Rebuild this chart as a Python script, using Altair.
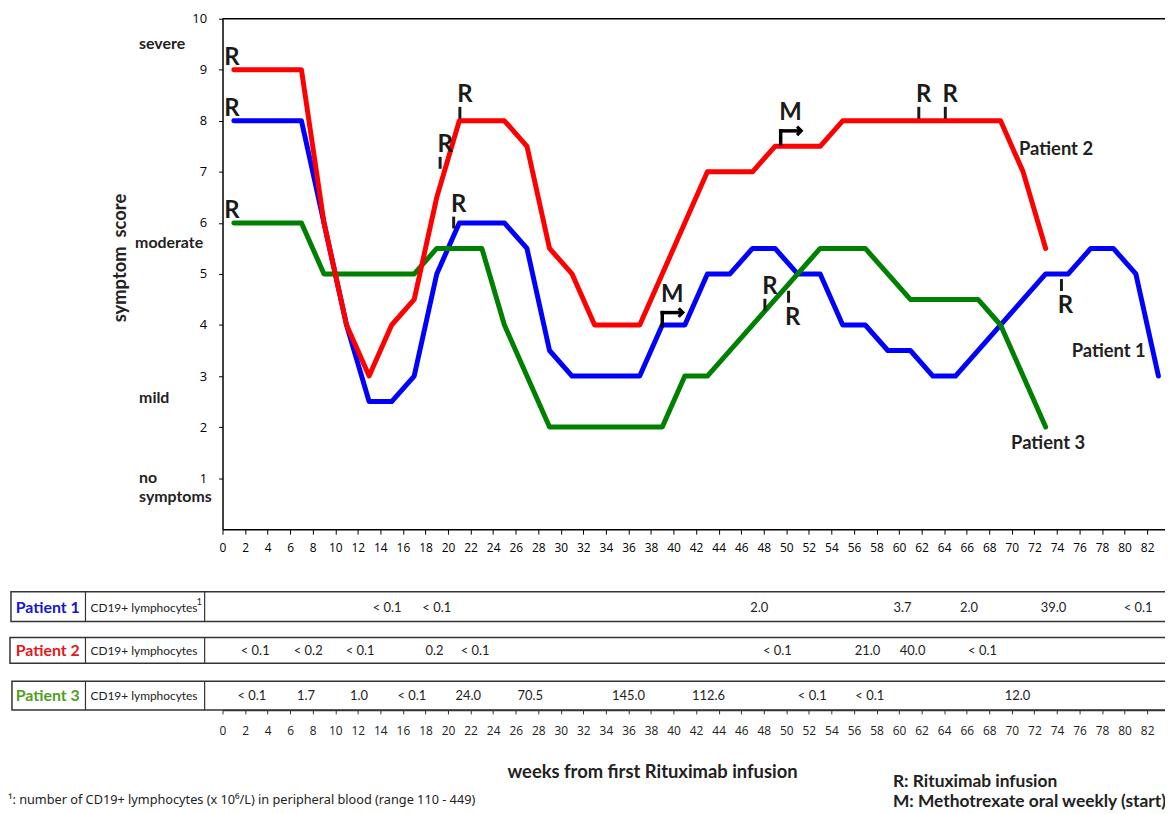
import altair as alt
import pandas as pd

# ---------------- data ----------------
patients = ["Patient 1", "Patient 2", "Patient 3"]
line_colors = ["#0000ff", "#ff0000", "#008000"]
name_colors = ["#1414d4", "#e4161c", "#4f9e1e"]

p1_weeks = [1, 7, 9, 11, 13, 15, 17, 19, 21, 25, 27, 29, 31, 37, 39, 41, 43, 45, 47, 49,
            51, 53, 55, 57, 59, 61, 63, 65, 73, 75, 77, 79, 81, 83]
p1_scores = [8, 8, 6, 4, 2.5, 2.5, 3, 5, 6, 6, 5.5, 3.5, 3, 3, 4, 4, 5, 5, 5.5, 5.5,
             5, 5, 4, 4, 3.5, 3.5, 3, 3, 5, 5, 5.5, 5.5, 5, 3]
p2_weeks = [1, 7, 9, 11, 13, 15, 17, 19, 21, 25, 27, 29, 31, 33, 37, 43, 47, 49, 53, 55, 69, 71, 73]
p2_scores = [9, 9, 6, 4, 3, 4, 4.5, 6.5, 8, 8, 7.5, 5.5, 5, 4, 4, 7, 7, 7.5, 7.5, 8, 8, 7, 5.5]
p3_weeks = [1, 7, 9, 17, 19, 23, 25, 29, 39, 41, 43, 53, 57, 61, 67, 69, 73]
p3_scores = [6, 6, 5, 5, 5.5, 5.5, 4, 2, 2, 3, 3, 5.5, 5.5, 4.5, 4.5, 4, 2]

x_ticks = list(range(0, 84, 2))
y_ticks = list(range(1, 11))

# Rituximab infusions (R) and methotrexate start (M)
r_start_weeks = [1, 1, 1]
r_start_scores = [9, 8, 6]
r_up_weeks = [19.3, 21.05, 20.5, 48.1, 61.75, 64.1]
r_up_scores = [7.06, 8.04, 5.89, 4.28, 8.04, 8.04]
r_down_weeks = [50.2, 74.4]
r_down_scores = [4.67, 4.9]
m_weeks = [39.0, 49.5]
m_scores = [3.99, 7.55]

# CD19+ lymphocyte table
cd19_p1_weeks = [14.6, 19.0, 47.6, 60.3, 66.2, 73.7, 81.2]
cd19_p1_vals = ["< 0.1", "< 0.1", "2.0", "3.7", "2.0", "39.0", "< 0.1"]
cd19_p2_weeks = [2.9, 7.6, 12.2, 18.8, 22.4, 49.2, 57.2, 61.2, 67.4]
cd19_p2_vals = ["< 0.1", "< 0.2", "< 0.1", "0.2", "< 0.1", "< 0.1", "21.0", "40.0", "< 0.1"]
cd19_p3_weeks = [2.6, 7.4, 12.1, 16.8, 21.8, 27.3, 36.0, 43.1, 52.3, 57.4, 70.5]
cd19_p3_vals = ["< 0.1", "1.7", "1.0", "< 0.1", "24.0", "70.5", "145.0", "112.6", "< 0.1", "< 0.1", "12.0"]

# ---------------- layout / style ----------------
OX, OY = 224, 16
W, H = 949, 514
X_MAX = W / 11.354
INK = "#222222"
FONT = "Lato"
AXFONT = "Open Sans"

xscale = alt.Scale(domain=[0, X_MAX], nice=False, zero=False)
yscale = alt.Scale(domain=[0, 10], nice=False, zero=False)


def px(x):
    return x - OX


def py(y):
    return y - OY


def label(text, x, y, size=13, weight="normal", color=INK, align="left", angle=0, font=FONT):
    return alt.Chart(pd.DataFrame({"t": [text]})).mark_text(
        align=align, baseline="middle", font=font, fontSize=size, fontWeight=weight,
        color=color, angle=angle
    ).encode(x=alt.value(px(x)), y=alt.value(py(y)), text="t:N")


def box(x1, x2, y1, y2):
    return alt.Chart(pd.DataFrame({"a": [0]})).mark_rect(
        filled=False, stroke="#333333", strokeWidth=1.5
    ).encode(x=alt.value(px(x1)), x2=alt.value(px(x2)), y=alt.value(py(y1)), y2=alt.value(py(y2)))


def vline(x, y1, y2):
    return alt.Chart(pd.DataFrame({"a": [0]})).mark_rule(color="#333333", strokeWidth=1.2).encode(
        x=alt.value(px(x)), y=alt.value(py(y1)), y2=alt.value(py(y2)))


upper_x_axis = alt.Axis(values=x_ticks, orient="bottom", title=None, grid=False, tickSize=5,
                        labelFont=AXFONT, labelFontSize=12, labelPadding=8, labelColor="black",
                        domainColor="black", tickColor="black", domainWidth=1.5, tickWidth=1,
                        labelOverlap=False, labelFlush=False)
y_axis = alt.Axis(values=y_ticks, orient="left", title=None, grid=False, tickSize=4,
                  labelFont=AXFONT, labelFontSize=13, labelPadding=12, labelColor="black",
                  domainColor="black", tickColor="black", domainWidth=1.5, labelFlush=False,
                  labelOverlap=False)
lower_x_axis = alt.Axis(values=x_ticks, orient="bottom", offset=182, title=None, grid=False,
                        tickSize=4, labelFont=AXFONT, labelFontSize=12, labelPadding=12,
                        labelColor="#222222", domainColor="#333333", tickColor="#333333",
                        domainWidth=1.5, labelOverlap=False, labelFlush=False)

layers = []

# table boxes
rows_y = [(593, 623), (639, 665), (683, 712)]
for (y1, y2), lx in zip(rows_y, [11, 10, 12]):
    layers.append(box(lx, OX + W + 4, y1, y2))
    layers.append(vline(86, y1, y2))
    layers.append(vline(206, y1, y2))

# top border
layers.append(alt.Chart(pd.DataFrame({"a": [0]})).mark_rule(color="black", strokeWidth=1.5).encode(
    x=alt.value(0), x2=alt.value(W), y=alt.value(0)))

# lines: blue, green, red (red on top)
series = [(0, p1_weeks, p1_scores), (2, p3_weeks, p3_scores), (1, p2_weeks, p2_scores)]
for k, (i, wk, sc) in enumerate(series):
    df = pd.DataFrame({"week": wk, "score": sc, "patient": patients[i]})
    layers.append(alt.Chart(df).mark_line(color=line_colors[i], strokeWidth=5, strokeCap="round",
                                          strokeJoin="round").encode(
        x=alt.X("week:Q", scale=xscale, axis=upper_x_axis if k == 0 else None),
        y=alt.Y("score:Q", scale=yscale, axis=y_axis if k == 0 else None)))

MARK_INK = "#1a1a1a"
rfont = dict(font=FONT, fontSize=24, fontWeight="bold", color=MARK_INK, baseline="middle", align="center")

# R at start
df = pd.DataFrame({"week": r_start_weeks, "score": r_start_scores})
layers.append(alt.Chart(df).mark_text(text="R", dx=-2, dy=-12, **rfont).encode(
    x=alt.X("week:Q", scale=xscale, axis=None), y=alt.Y("score:Q", scale=yscale, axis=None)))

# R with tick above line
df = pd.DataFrame({"week": r_up_weeks, "score": r_up_scores})
layers.append(alt.Chart(df).mark_rule(color=MARK_INK, strokeWidth=3, y2Offset=-12).encode(
    x=alt.X("week:Q", scale=xscale, axis=None), y=alt.Y("score:Q", scale=yscale, axis=None),
    y2=alt.Y2("score:Q")))
layers.append(alt.Chart(df).mark_text(text="R", dx=5, dy=-24, **rfont).encode(
    x=alt.X("week:Q", scale=xscale, axis=None), y=alt.Y("score:Q", scale=yscale, axis=None)))

# R with tick below line
df = pd.DataFrame({"week": r_down_weeks, "score": r_down_scores})
layers.append(alt.Chart(df).mark_rule(color=MARK_INK, strokeWidth=3, y2Offset=12).encode(
    x=alt.X("week:Q", scale=xscale, axis=None), y=alt.Y("score:Q", scale=yscale, axis=None),
    y2=alt.Y2("score:Q")))
layers.append(alt.Chart(df).mark_text(text="R", dx=4, dy=27, **rfont).encode(
    x=alt.X("week:Q", scale=xscale, axis=None), y=alt.Y("score:Q", scale=yscale, axis=None)))

# M with bent arrow
df = pd.DataFrame({"week": m_weeks, "score": m_scores})
layers.append(alt.Chart(df).mark_rule(color="black", strokeWidth=3.5, strokeCap="square",
                                      y2Offset=-13).encode(
    x=alt.X("week:Q", scale=xscale, axis=None), y=alt.Y("score:Q", scale=yscale, axis=None),
    y2=alt.Y2("score:Q")))
layers.append(alt.Chart(df).mark_rule(color="black", strokeWidth=3.5, strokeCap="square",
                                      yOffset=-13, x2Offset=18).encode(
    x=alt.X("week:Q", scale=xscale, axis=None), x2=alt.X2("week:Q"),
    y=alt.Y("score:Q", scale=yscale, axis=None)))
layers.append(alt.Chart(df).mark_point(shape="M-0.6,-1L0.4,0L-0.6,1", filled=False, stroke="black",
                                       strokeWidth=3.2, size=70, xOffset=19, yOffset=-13,
                                       opacity=1).encode(
    x=alt.X("week:Q", scale=xscale, axis=None), y=alt.Y("score:Q", scale=yscale, axis=None)))
layers.append(alt.Chart(df).mark_text(text="M", dx=10, dy=-31, **rfont).encode(
    x=alt.X("week:Q", scale=xscale, axis=None), y=alt.Y("score:Q", scale=yscale, axis=None)))

# patient labels
layers.append(label("Patient 2", 1026, 147, size=18.5, weight="bold"))
layers.append(label("Patient 1", 1079, 351, size=18.5, weight="bold"))
layers.append(label("Patient 3", 1018, 443, size=18.5, weight="bold"))

# severity labels and y title
layers.append(label("severe", 140, 41, size=16, weight="bold"))
layers.append(label("moderate", 136, 242, size=16, weight="bold"))
layers.append(label("mild", 140, 398, size=16, weight="bold"))
layers.append(label("no", 140, 479, size=16, weight="bold"))
layers.append(label("symptoms", 140, 498, size=16, weight="bold"))
layers.append(label("symptom\u00a0\u00a0score", 121, 257, size=18.5, weight="bold", align="center",
                    angle=270))

# table text
for i, (wk, vals, ymid) in enumerate([(cd19_p1_weeks, cd19_p1_vals, 609),
                                      (cd19_p2_weeks, cd19_p2_vals, 653),
                                      (cd19_p3_weeks, cd19_p3_vals, 698)]):
    df = pd.DataFrame({"week": wk, "val": vals})
    layers.append(alt.Chart(df).mark_text(font=FONT, fontSize=13, color=INK, align="center",
                                          baseline="middle").encode(
        x=alt.X("week:Q", scale=xscale, axis=lower_x_axis if i == 0 else None),
        y=alt.value(py(ymid)), text="val:N"))
    layers.append(label(patients[i], 48, ymid, size=16, weight="bold", color=name_colors[i],
                        align="center"))
    layers.append(label("CD19+ lymphocytes", 91, ymid, size=12))
layers.append(label("1", 198, 603, size=9))

# bottom texts
layers.append(label("weeks from first Rituximab infusion", 657, 775, size=18.5, weight="bold",
                    align="center"))
layers.append(label("R: Rituximab infusion", 899, 785, size=17.5, weight="bold"))
layers.append(label("M: Methotrexate oral weekly (start)", 899, 805, size=17.5, weight="bold"))
layers.append(label("\u00b9: number of CD19+ lymphocytes (x 10\u2076/L) in peripheral blood (range 110 - 449)",
                    8, 803, size=12.8, font="Noto Sans"))

chart = alt.layer(*layers).resolve_axis(x="independent", y="independent").properties(
    width=W, height=H,
    autosize=alt.AutoSizeParams(type="none"),
    padding={"left": 216, "top": 8, "right": 0, "bottom": 284},
).configure_view(stroke="transparent")

chart.save("out.html", embed_options={"renderer": "svg", "actions": False})
